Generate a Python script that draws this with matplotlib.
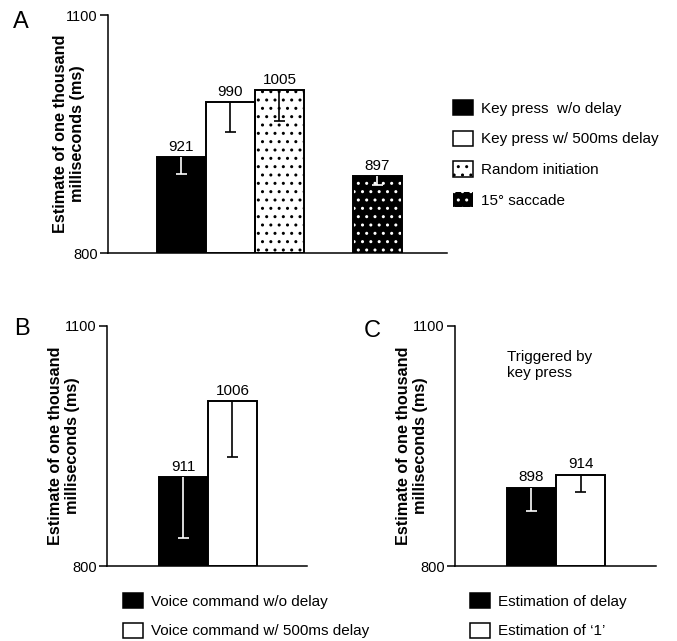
import matplotlib
matplotlib.use('Agg')
import matplotlib.pyplot as plt
from matplotlib.patches import Patch

plt.rcParams['font.family'] = ['Liberation Sans', 'DejaVu Sans']
plt.rcParams['hatch.linewidth'] = 1.0

# panel A
a_labels = ['Key press  w/o delay', 'Key press w/ 500ms delay', 'Random initiation', '15\u00b0 saccade']
a_values = [921, 990, 1005, 897]
a_err = [21, 38, 39, 11]
a_pos = [0, 1, 2, 4]

# panel B
b_labels = ['Voice command w/o delay', 'Voice command w/ 500ms delay']
b_values = [911, 1006]
b_err = [76, 70]
b_pos = [0, 1]

# panel C
c_labels = ['Estimation of delay', 'Estimation of \u20181\u2019']
c_values = [898, 914]
c_err = [29, 22]
c_pos = [0, 1]

ylab = 'Estimate of one thousand\nmilliseconds (ms)'

# face, hatch colour, hatch, error bar colour
solid = ('black', None, None, 'white')
empty = ('white', None, None, 'black')
dots = ('white', 'black', '..', 'black')
sacc = ('black', 'white', '..', 'white')


def draw_panel(ax, pos, values, err, styles, xlim):
    for p, v, e, st in zip(pos, values, err, styles):
        face, hcol, hatch, ecol = st
        if hatch:
            ax.bar(p, v - 800, bottom=800, width=1.0, color=face, edgecolor=hcol,
                   hatch=hatch, linewidth=0, zorder=2)
        ax.bar(p, v - 800, bottom=800, width=1.0, color=face if not hatch else 'none',
               edgecolor='black', linewidth=1.4, zorder=3)
        ax.vlines(p, v - e, v, color=ecol, linewidth=1.2, zorder=4)
        ax.hlines(v - e, p - 0.11, p + 0.11, color=ecol, linewidth=1.2, zorder=4)
        ax.annotate(str(v), (p, v), xytext=(0, 2.5), textcoords='offset points',
                    ha='center', va='bottom', fontsize=11)
    ax.set_xlim(*xlim)
    ax.set_ylim(800, 1100)
    ax.set_yticks([800, 1100])
    ax.set_xticks([])
    for s in ['top', 'right']:
        ax.spines[s].set_visible(False)
    for s in ['left', 'bottom']:
        ax.spines[s].set_linewidth(1.1)
    ax.tick_params(axis='y', length=6, width=1.1, pad=1.5, labelsize=10.5)


def handles(styles):
    out = []
    for face, hcol, hatch, ecol in styles:
        if hatch and face == 'black':
            out.append(Patch(facecolor=face, edgecolor=hcol, hatch=hatch, linewidth=0))
        elif hatch:
            out.append(Patch(facecolor=face, edgecolor=hcol, hatch=hatch, linewidth=1.1))
        else:
            out.append(Patch(facecolor=face, edgecolor='black', linewidth=1.1))
    return out


W, H = 677, 641
fig = plt.figure(figsize=(6.77, 6.41), dpi=100)

axA = fig.add_axes([108 / W, 1 - 253 / H, 339 / W, 238 / H])
axB = fig.add_axes([107 / W, 1 - 566 / H, 200 / W, 240 / H])
axC = fig.add_axes([455 / W, 1 - 566 / H, 201 / W, 240 / H])

a_styles = [solid, empty, dots, sacc]
draw_panel(axA, a_pos, a_values, a_err, a_styles, (-1.5, 5.42))
draw_panel(axB, b_pos, b_values, b_err, [solid, empty], (-1.56, 2.52))
draw_panel(axC, c_pos, c_values, c_err, [solid, empty], (-1.56, 2.54))

for x, y in [(69, 134), (64, 446), (412, 446)]:
    fig.text(x / W, 1 - y / H, ylab, rotation=90, ha='center', va='center',
             multialignment='center', fontsize=11.7, fontweight='bold')

fig.text(13 / W, 1 - 28 / H, 'A', fontsize=17, va='baseline')
fig.text(14 / W, 1 - 335 / H, 'B', fontsize=17, va='baseline')
fig.text(364 / W, 1 - 337 / H, 'C', fontsize=17, va='baseline')

axC.text(0.259, 0.9, 'Triggered by\nkey press', transform=axC.transAxes,
         ha='left', va='top', fontsize=11, linespacing=1.2)

leg_kw = dict(frameon=False, fontsize=11, handlelength=1.3, handleheight=1.15,
              handletextpad=0.55, borderpad=0, borderaxespad=0, loc='upper left')
fig.legend(handles(a_styles), a_labels, bbox_to_anchor=(453 / W, 1 - 100 / H),
           labelspacing=0.98, **leg_kw)
fig.legend(handles([solid, empty]), b_labels, bbox_to_anchor=(123 / W, 1 - 593 / H),
           labelspacing=0.91, **leg_kw)
fig.legend(handles([solid, empty]), c_labels, bbox_to_anchor=(470 / W, 1 - 593 / H),
           labelspacing=0.91, **leg_kw)

fig.savefig('out.png', dpi=100)
